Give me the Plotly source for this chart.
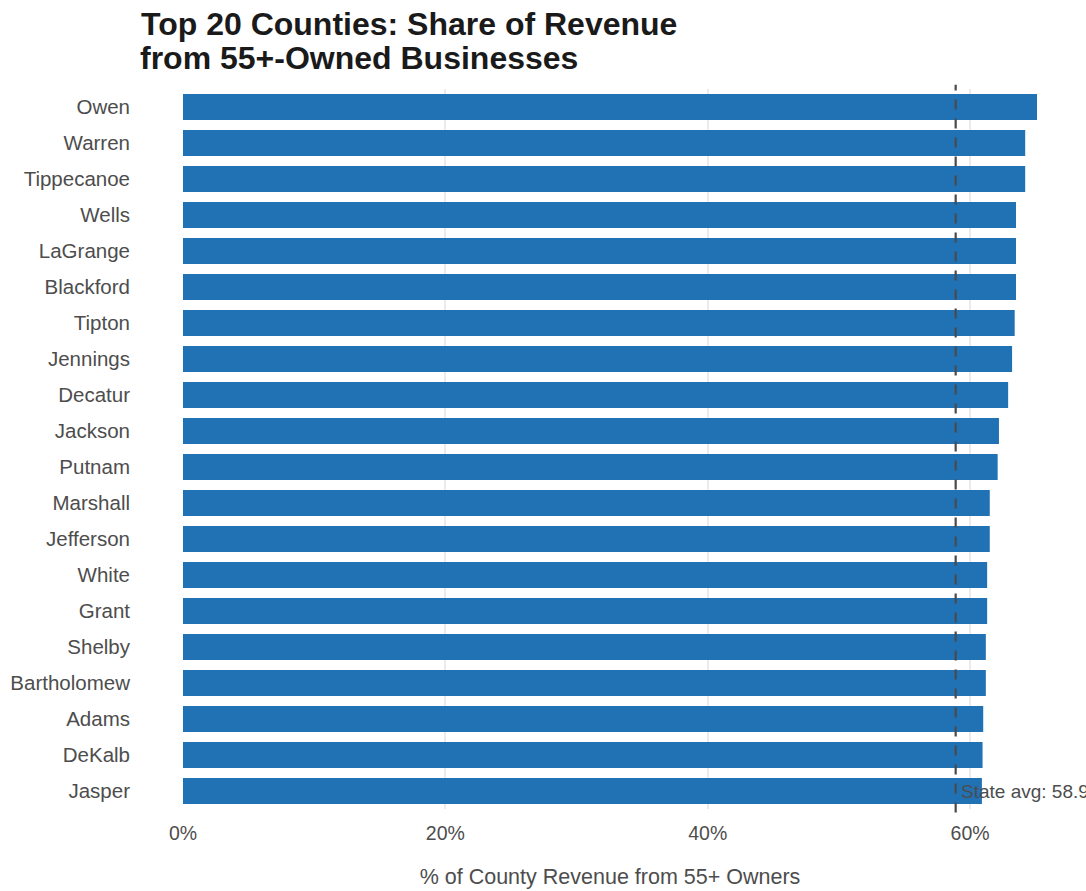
import plotly.graph_objects as go

# County shares of revenue from businesses owned by people aged 55+
counties = [
    "Owen", "Warren", "Tippecanoe", "Wells", "LaGrange", "Blackford", "Tipton",
    "Jennings", "Decatur", "Jackson", "Putnam", "Marshall", "Jefferson", "White",
    "Grant", "Shelby", "Bartholomew", "Adams", "DeKalb", "Jasper",
]
share_pct = [
    65.1, 64.2, 64.2, 63.5, 63.5, 63.5, 63.4,
    63.2, 62.9, 62.2, 62.1, 61.5, 61.5, 61.3,
    61.3, 61.2, 61.2, 61.0, 60.95, 60.9,
]
state_avg = 58.9
x_ticks = [0, 20, 40, 60]
x_tick_labels = ["0%", "20%", "40%", "60%"]

BAR_COLOR = "#2171b5"
FONT = "Liberation Sans, Arial, sans-serif"
TEXT_GREY = "#4d4d4d"

fig = go.Figure(
    go.Bar(
        x=share_pct,
        y=counties,
        orientation="h",
        marker=dict(color=BAR_COLOR, line=dict(width=0)),
        width=0.72,
        hoverinfo="x+y",
    )
)

# State average reference line, running slightly past the plot edges
fig.add_shape(
    type="line",
    xref="x",
    yref="paper",
    x0=state_avg,
    x1=state_avg,
    y0=-0.005,
    y1=1.006,
    line=dict(color="#4a4a4a", width=2.2, dash="10px,9px"),
    layer="above",
)
fig.add_annotation(
    x=state_avg,
    y=counties[-1],
    xref="x",
    yref="y",
    text=f"State avg: {state_avg:.1f}%",
    showarrow=False,
    xanchor="left",
    yanchor="middle",
    xshift=3,
    font=dict(family=FONT, size=19, color=TEXT_GREY),
)

# Second line of the two-line title, set tighter than the default line height
fig.add_annotation(
    xref="paper",
    yref="paper",
    x=-45 / 854,
    y=1 + 31 / 720,
    xanchor="left",
    yanchor="middle",
    text="<b>from 55+-Owned Businesses</b>",
    showarrow=False,
    font=dict(family=FONT, size=32, color="#1a1a1a"),
)

fig.update_layout(
    width=1086,
    height=891,
    template="plotly_white",
    paper_bgcolor="white",
    plot_bgcolor="white",
    margin=dict(l=183, r=49, t=89, b=82, autoexpand=False),
    showlegend=False,
    bargap=0.28,
    title=dict(
        text="<b>Top 20 Counties: Share of Revenue</b>",
        xref="container",
        x=141 / 1086,
        xanchor="left",
        yref="container",
        y=1 - 24 / 891,
        yanchor="middle",
        font=dict(family=FONT, size=32, color="#1a1a1a"),
    ),
    font=dict(family=FONT, color=TEXT_GREY),
)

fig.update_xaxes(
    range=[0, max(share_pct)],
    automargin=False,
    tickvals=x_ticks,
    ticktext=x_tick_labels,
    tickfont=dict(family=FONT, size=19.5, color=TEXT_GREY),
    ticklabelstandoff=10,
    showgrid=True,
    gridcolor="#ebebeb",
    gridwidth=2,
    zeroline=False,
    showline=False,
    ticks="",
    title=dict(
        text="% of County Revenue from 55+ Owners",
        font=dict(family=FONT, size=21.5, color=TEXT_GREY),
        standoff=26,
    ),
)
fig.update_yaxes(
    categoryorder="array",
    categoryarray=counties,
    autorange="reversed",
    automargin=False,
    tickfont=dict(family=FONT, size=20.5, color=TEXT_GREY),
    showgrid=False,
    showline=False,
    ticks="",
    ticklabelstandoff=52,
)

fig.write_html("out.html")
